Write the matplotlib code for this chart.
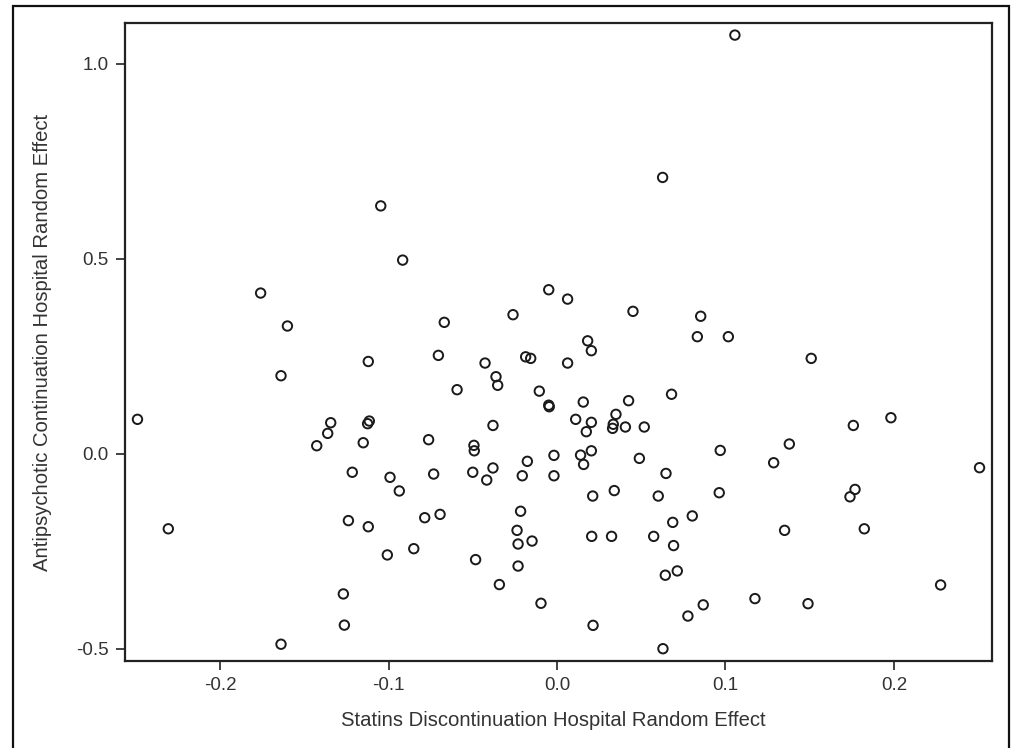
import matplotlib
matplotlib.use("Agg")
import matplotlib.pyplot as plt
from matplotlib.patches import Rectangle

# Statins discontinuation hospital random effect (x) vs
# antipsychotic continuation hospital random effect (y)
statins_re = [
    0.1056, 0.0627, -0.1046, -0.0916, -0.1759, -0.1600, -0.1638, -0.2490,
    -0.1426, -0.1361, -0.1343, -0.0049, 0.0063, 0.0451, -0.0261, -0.0669,
    0.0182, 0.0204, -0.1120, -0.0704, -0.0427, -0.0186, -0.0156, 0.0063,
    -0.0362, -0.0352, -0.0593, -0.0105, -0.0049, -0.0046, 0.0156, 0.0425,
    0.0680, 0.0350, 0.0334, 0.0330, 0.0406, 0.0518, 0.0111, 0.0204,
    0.0174, -0.1114, -0.1124, -0.0380, -0.1150, -0.0762, -0.0493, -0.0491,
    -0.0018, -0.0176, 0.0204, 0.0140, 0.0158, 0.0489, -0.1215, -0.0991,
    -0.0936, -0.0732, -0.0500, -0.0380, -0.0417, -0.0206, -0.0018, 0.0647,
    0.0212, 0.0340, 0.0601, 0.0853, 0.0833, 0.1017, 0.1509, 0.1982,
    0.1759, 0.1379, 0.0969, 0.1286, 0.2508, 0.0963, 0.1769, 0.1739,
    -0.2307, -0.1638, -0.1268, -0.1262, -0.1238, -0.1120, -0.0785, -0.0694,
    -0.1007, -0.0850, -0.0483, -0.0342, -0.0216, -0.0237, -0.0231, -0.0148,
    -0.0231, -0.0095, 0.0206, 0.0324, 0.0574, 0.0687, 0.0692, 0.0643,
    0.0214, 0.0629, 0.0803, 0.1351, 0.1824, 0.0714, 0.2277, 0.1175,
    0.1490, 0.0868, 0.0777,
]
antipsychotic_re = [
    1.073, 0.708, 0.635, 0.496, 0.4115, 0.327, 0.1995, 0.0877,
    0.020, 0.0517, 0.079, 0.420, 0.396, 0.3646, 0.356, 0.3364,
    0.289, 0.2637, 0.236, 0.2517, 0.232, 0.248, 0.244, 0.232,
    0.197, 0.175, 0.1637, 0.160, 0.124, 0.120, 0.132, 0.1355,
    0.152, 0.1005, 0.075, 0.0646, 0.068, 0.068, 0.0877, 0.080,
    0.056, 0.0833, 0.0765, 0.072, 0.0277, 0.0355, 0.021, 0.007,
    -0.0047, -0.020, 0.007, -0.004, -0.028, -0.0124, -0.048, -0.061,
    -0.096, -0.0526, -0.048, -0.037, -0.068, -0.057, -0.057, -0.051,
    -0.109, -0.095, -0.109, 0.352, 0.2996, 0.2996, 0.244, 0.0918,
    0.072, 0.0244, 0.008, -0.0236, -0.0363, -0.1005, -0.092, -0.111,
    -0.193, -0.489, -0.360, -0.440, -0.172, -0.1877, -0.1646, -0.156,
    -0.260, -0.244, -0.272, -0.336, -0.148, -0.197, -0.232, -0.2244,
    -0.2885, -0.384, -0.2124, -0.2124, -0.2124, -0.1765, -0.236, -0.312,
    -0.4406, -0.5005, -0.160, -0.197, -0.193, -0.301, -0.337, -0.372,
    -0.385, -0.388, -0.4167,
]

x_ticks = [-0.2, -0.1, 0.0, 0.1, 0.2]
x_tick_labels = ["-0.2", "-0.1", "0.0", "0.1", "0.2"]
y_ticks = [-0.5, 0.0, 0.5, 1.0]
y_tick_labels = ["-0.5", "0.0", "0.5", "1.0"]

plt.rcParams['font.family'] = ['Liberation Sans', 'DejaVu Sans']

W, H = 1011, 748
fig = plt.figure(figsize=(W / 100, H / 100), dpi=100)
ax = fig.add_axes([125 / W, 1 - 661 / H, (992 - 125) / W, (661 - 23) / H])

ax.scatter(statins_re, antipsychotic_re, s=46, facecolors='none',
           edgecolors='#1a1a1a', linewidths=1.4, zorder=3)

ax.set_xlim(-0.2564, 0.2582)
ax.set_ylim(-0.532, 1.104)
ax.set_xticks(x_ticks)
ax.set_xticklabels(x_tick_labels)
ax.set_yticks(y_ticks)
ax.set_yticklabels(y_tick_labels)

for sp in ax.spines.values():
    sp.set_linewidth(1.6)
    sp.set_color('#222222')
ax.tick_params(direction='out', length=6.8, width=1.2, colors='#222222',
               labelsize=13.5, pad=5, labelcolor='#333333')

ax.set_xlabel("Statins Discontinuation Hospital Random Effect",
              fontsize=14.6, color='#333333')
ax.set_ylabel("Antipsychotic Continuation Hospital Random Effect",
              fontsize=14.6, color='#333333')
ax.xaxis.set_label_coords(0.494, -0.079)
ax.yaxis.set_label_coords(-0.084, 0.5)

# outer frame around the whole figure
fig.patches.append(Rectangle((13 / W, -0.02), (1009 - 13) / W, 1.02 - 6 / H,
                             transform=fig.transFigure, fill=False,
                             edgecolor='#111111', linewidth=1.6))

fig.savefig("out.png", dpi=100)
